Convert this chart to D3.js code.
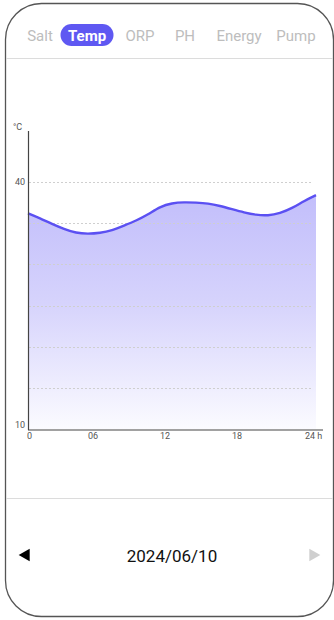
<!DOCTYPE html>
<html><head><meta charset="utf-8">
<script src="https://cdn.jsdelivr.net/npm/d3@7"></script>
<style>html,body{margin:0;padding:0;background:#fff;}svg{display:block;}</style>
</head><body>
<script>
const tabs = ["Salt","Temp","ORP","PH","Energy","Pump"];
const activeTab = "Temp";
const hours = [0,1,2,3,4,5,6,7,8,9,10,11,12,13,14,15,16,17,18,19,20,21,22,23,24];
const temps = [36.2,35.6,34.9,34.3,33.8,33.7,33.8,34.1,34.7,35.3,36.05,37.0,37.45,37.55,37.5,37.4,37.1,36.7,36.3,36.0,35.9,36.2,36.8,37.7,38.4];
const yGridValues = [15,20,25,30,35,40];
const yTickLabels = [10,40];
const xTicks = [0,6,12,18,24];
const xTickLabels = ["0","06","12","18","24 h"];
const dateLabel = "2024/06/10";
const yUnit = "°C";

const W = 334, H = 620;
const svg = d3.select("body").append("svg").attr("width", W).attr("height", H);

// frame
svg.append("rect").attr("x",5.5).attr("y",3.5).attr("width",328).attr("height",613)
  .attr("rx",36).attr("ry",36).attr("fill","#fff").attr("stroke","#555").attr("stroke-width",1.3);

// tabs
const tabCenters = [40, 87, 140, 185, 239, 296];
const tabG = svg.append("g").attr("font-family","Roboto, sans-serif").attr("font-size",15);
tabs.forEach((t,i)=>{
  const active = t===activeTab;
  if(active){
    tabG.append("rect").attr("x",tabCenters[i]-26.5).attr("y",24).attr("width",53).attr("height",22)
      .attr("rx",11).attr("fill","#5f58f2");
  }
  tabG.append("text").attr("x",tabCenters[i]).attr("y",40.5).attr("text-anchor","middle")
    .attr("fill", active?"#fff":"#bdbdbd").attr("font-weight", active?"bold":"normal").text(t);
});
svg.append("line").attr("x1",6).attr("x2",333).attr("y1",58.5).attr("y2",58.5).attr("stroke","#dcdcdc");
svg.append("line").attr("x1",6).attr("x2",333).attr("y1",498.5).attr("y2",498.5).attr("stroke","#dcdcdc");

// chart
const x = d3.scaleLinear().domain([0,24]).range([28,316]);
const y = d3.scaleLinear().domain([10,40]).range([429,182]);

const defs = svg.append("defs");
const grad = defs.append("linearGradient").attr("id","fillGrad")
  .attr("gradientUnits","userSpaceOnUse").attr("x1",0).attr("x2",0).attr("y1",200).attr("y2",429);
grad.append("stop").attr("offset","0%").attr("stop-color","#c3bffb");
grad.append("stop").attr("offset","45%").attr("stop-color","#d6d3fc");
grad.append("stop").attr("offset","100%").attr("stop-color","#fbfbff");

const data = hours.map((h,i)=>({h, v:temps[i]}));
const area = d3.area().x(d=>x(d.h)).y0(y(10)).y1(d=>y(d.v)).curve(d3.curveBasis);
const line = d3.line().x(d=>x(d.h)).y(d=>y(d.v)).curve(d3.curveBasis);

svg.append("path").datum(data).attr("d",area).attr("fill","url(#fillGrad)");

// grid
svg.append("g").selectAll("line").data(yGridValues).join("line")
  .attr("x1",29).attr("x2",313).attr("y1",d=>Math.round(y(d))+0.5).attr("y2",d=>Math.round(y(d))+0.5)
  .attr("stroke","#cfcfcf").attr("stroke-width",1).attr("stroke-dasharray","2,2");

svg.append("path").datum(data).attr("d",line).attr("fill","none").attr("stroke","#5b50f2").attr("stroke-width",2.4);

// axes
svg.append("line").attr("x1",28.5).attr("x2",28.5).attr("y1",131).attr("y2",430).attr("stroke","#444").attr("stroke-width",1.2);
svg.append("line").attr("x1",28).attr("x2",323).attr("y1",430).attr("y2",430).attr("stroke","#444").attr("stroke-width",1.2);

const axG = svg.append("g").attr("font-family","Roboto, sans-serif").attr("font-size",9).attr("fill","#555");
axG.append("text").attr("x",13).attr("y",130).text(yUnit);
yTickLabels.forEach(v=>{
  axG.append("text").attr("x",25).attr("y", v===10 ? y(v)-1 : y(v)+3).attr("text-anchor","end").text(v);
});
xTicks.forEach((t,i)=>{
  const lab = xTickLabels[i];
  let tx = x(t)-7, anchor="middle";
  if(i===0){ tx = x(t)-1; anchor="start"; }
  if(i===xTicks.length-1){ tx = x(t)-11; anchor="start"; }
  axG.append("text").attr("x",tx).attr("y",439).attr("text-anchor",anchor).text(lab);
});

// bottom nav
const tri = d3.symbol().type(d3.symbolTriangle).size(70);
svg.append("path").attr("d",tri).attr("transform","translate(26,555) rotate(-90)").attr("fill","#000");
svg.append("path").attr("d",tri).attr("transform","translate(313,555) rotate(90)").attr("fill","#cfcfcf");
svg.append("text").attr("x",172).attr("y",561.5).attr("text-anchor","middle")
  .attr("font-family","Roboto, sans-serif").attr("font-size",17).attr("fill","#111").text(dateLabel);
</script>
</body></html>
